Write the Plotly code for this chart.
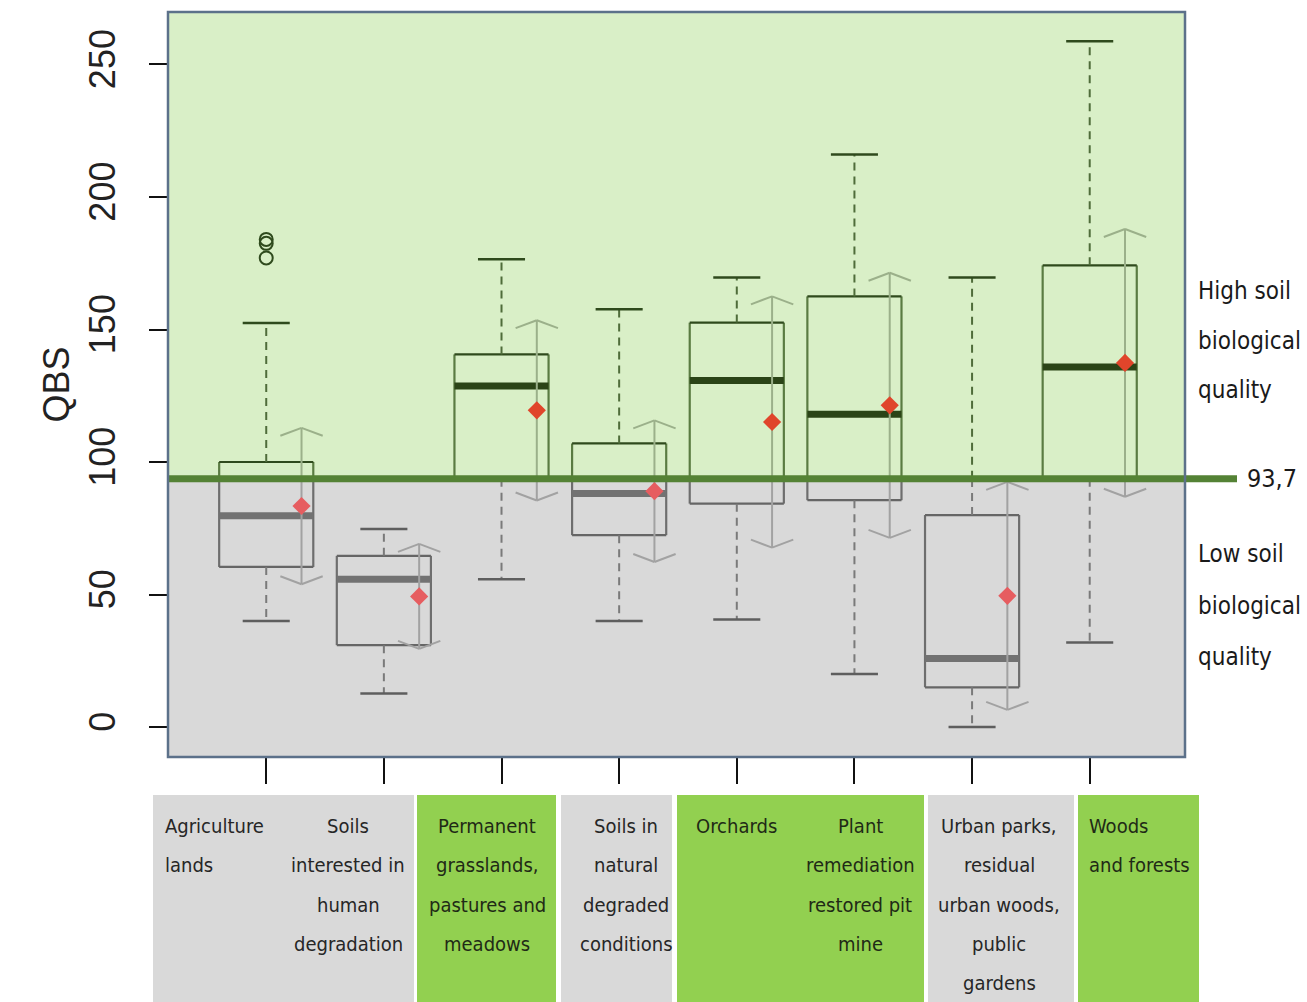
import plotly.graph_objects as go

# ---- data -------------------------------------------------------------
categories = [
    "Agriculture lands",
    "Soils interested in human degradation",
    "Permanent grasslands, pastures and meadows",
    "Soils in natural degraded conditions",
    "Orchards",
    "Plant remediation restored pit mine",
    "Urban parks, residual urban woods, public gardens",
    "Woods and forests",
]
label_lines = [
    ["Agriculture", "lands"],
    ["Soils", "interested in", "human", "degradation"],
    ["Permanent", "grasslands,", "pastures and", "meadows"],
    ["Soils in", "natural", "degraded", "conditions"],
    ["Orchards"],
    ["Plant", "remediation", "restored pit", "mine"],
    ["Urban parks,", "residual", "urban woods,", "public", "gardens"],
    ["Woods", "and forests"],
]
label_align = ["left", "center", "center", "center", "center", "center", "center", "left"]
label_green = [False, False, True, False, True, True, False, True]

whisker_low = [40.0, 12.7, 55.8, 40.0, 40.6, 20.0, 0.0, 31.9]
q1 = [60.4, 30.9, 94.0, 72.4, 84.3, 85.6, 15.0, 94.0]
median = [79.7, 55.8, 128.7, 88.1, 130.8, 118.0, 25.9, 135.9]
q3 = [100.0, 64.6, 140.6, 107.0, 152.6, 162.5, 80.0, 174.2]
whisker_high = [152.5, 74.7, 176.5, 157.6, 169.6, 216.0, 169.6, 258.8]
mean = [83.4, 49.3, 119.5, 89.0, 115.1, 121.4, 49.5, 137.4]
sd = [29.5, 19.8, 34.0, 26.7, 47.4, 50.0, 43.0, 50.5]

outlier_cat = [0, 0, 0]
outlier_val = [184.0, 182.5, 177.0]

threshold = 93.7
threshold_label = "93,7"
y_ticks = [0, 50, 100, 150, 200, 250]

# ---- styling ----------------------------------------------------------
BOX_HALF = 0.40
CAP_HALF = 0.20
SD_SHIFT = 0.30
CHEV_HALF = 0.18
CHEV_DROP = 3.0

STYLES = {
    ("box_h", "hi"): dict(color="#2f4a1d", width=2.2),
    ("box_h", "lo"): dict(color="#666666", width=2.2),
    ("box_v", "hi"): dict(color="#5a7b42", width=2.2),
    ("box_v", "lo"): dict(color="#6e6e6e", width=2.2),
    ("median", "hi"): dict(color="#2b4417", width=7),
    ("median", "lo"): dict(color="#727272", width=7),
    ("whisk", "hi"): dict(color="#4f6c3a", width=2, dash="8px,6px"),
    ("whisk", "lo"): dict(color="#7a7a7a", width=2, dash="8px,6px"),
    ("cap", "hi"): dict(color="#2f4a1d", width=2.5),
    ("cap", "lo"): dict(color="#5e5e5e", width=2.5),
    ("sd", "hi"): dict(color="#9bb08a", width=2),
    ("sd", "lo"): dict(color="#a2a2a2", width=2),
}
ORDER = ["box_v", "box_h", "median", "whisk", "cap", "sd"]

segments = {k: ([], []) for k in STYLES}


def region(y):
    return "hi" if y >= threshold else "lo"


def add_seg(kind, x0, y0, x1, y1):
    """Store a segment, splitting it where it crosses the threshold."""
    if (y0 - threshold) * (y1 - threshold) < 0:
        t = (threshold - y0) / (y1 - y0)
        xm = x0 + t * (x1 - x0)
        add_seg(kind, x0, y0, xm, threshold)
        add_seg(kind, xm, threshold, x1, y1)
        return
    r = region((y0 + y1) / 2)
    xs, ys = segments[(kind, r)]
    xs += [x0, x1, None]
    ys += [y0, y1, None]


for i in range(len(categories)):
    # box
    add_seg("box_h", i - BOX_HALF, q3[i], i + BOX_HALF, q3[i])
    add_seg("box_h", i - BOX_HALF, q1[i], i + BOX_HALF, q1[i])
    add_seg("box_v", i - BOX_HALF, q1[i], i - BOX_HALF, q3[i])
    add_seg("box_v", i + BOX_HALF, q1[i], i + BOX_HALF, q3[i])
    add_seg("median", i - BOX_HALF, median[i], i + BOX_HALF, median[i])
    # whiskers and caps
    add_seg("whisk", i, q3[i], i, whisker_high[i])
    add_seg("whisk", i, q1[i], i, whisker_low[i])
    add_seg("cap", i - CAP_HALF, whisker_high[i], i + CAP_HALF, whisker_high[i])
    add_seg("cap", i - CAP_HALF, whisker_low[i], i + CAP_HALF, whisker_low[i])
    # mean +/- sd with open arrow heads
    xs = i + SD_SHIFT
    top = mean[i] + sd[i]
    bot = mean[i] - sd[i]
    add_seg("sd", xs, bot, xs, top)
    add_seg("sd", xs - CHEV_HALF, top - CHEV_DROP, xs, top)
    add_seg("sd", xs, top, xs + CHEV_HALF, top - CHEV_DROP)
    add_seg("sd", xs - CHEV_HALF, bot + CHEV_DROP, xs, bot)
    add_seg("sd", xs, bot, xs + CHEV_HALF, bot + CHEV_DROP)

fig = go.Figure()
for kind in ORDER:
    for r in ("lo", "hi"):
        xs, ys = segments[(kind, r)]
        if xs:
            fig.add_trace(go.Scatter(x=xs, y=ys, mode="lines", line=STYLES[(kind, r)],
                                     hoverinfo="skip", showlegend=False))

# outliers
fig.add_trace(go.Scatter(
    x=outlier_cat, y=outlier_val, mode="markers", showlegend=False,
    marker=dict(symbol="circle-open", size=13, color="#2f4a1d", line=dict(width=2)),
))

# means
mean_x = [i + SD_SHIFT for i in range(len(categories))]
mean_colors = ["#e0452b" if m >= threshold else "#e65d60" for m in mean]
fig.add_trace(go.Scatter(
    x=mean_x, y=mean, mode="markers", showlegend=False,
    marker=dict(symbol="diamond", size=14, color=mean_colors),
))

# ---- layout -----------------------------------------------------------
L, R, T, B = 168, 1185, 12, 757
W, H = 1307, 1002
y_lo, y_hi = -11.3, 269.8
x_lo, x_hi = -0.835, 7.81


def px_x(p):
    return (p - L) / (R - L)


def px_y(p):
    return (B - p) / (B - T)


shapes = [
    # high-quality band above the threshold
    dict(type="rect", xref="paper", yref="y", x0=0, x1=1, y0=threshold, y1=y_hi,
         fillcolor="#d9efc7", line=dict(width=0), layer="below"),
    # threshold line, extending into the right margin
    dict(type="line", xref="paper", yref="y", x0=0, x1=px_x(1237), y0=threshold, y1=threshold,
         line=dict(color="#548235", width=7), layer="above"),
    # plot frame
    dict(type="rect", xref="paper", yref="paper", x0=0, x1=1, y0=0, y1=1,
         line=dict(color="#5c718a", width=2.5), layer="above"),
]

# coloured label panels under the axis
panels = [
    (153, 414, "#d9d9d9"),
    (417, 556, "#92d050"),
    (561, 672, "#d9d9d9"),
    (677, 924, "#92d050"),
    (928, 1074, "#d9d9d9"),
    (1078, 1199, "#92d050"),
]
for x0, x1, c in panels:
    shapes.append(dict(type="rect", xref="paper", yref="paper",
                       x0=px_x(x0), x1=px_x(x1), y0=px_y(795), y1=px_y(W),
                       fillcolor=c, line=dict(width=0), layer="below"))

LABEL_FONT = "DejaVu Sans Condensed, Liberation Sans Narrow, sans-serif"
label_anchor_px = [163, 348, 487, 626, 736, 860, 999, 1087]
line_y0, line_step = 826, 39.3

annotations = []
for i, lines in enumerate(label_lines):
    for k, txt in enumerate(lines):
        annotations.append(dict(
            xref="paper", yref="paper", x=px_x(label_anchor_px[i]),
            y=px_y(line_y0 + k * line_step),
            xanchor="left" if label_align[i] == "left" else "center", yanchor="middle",
            text=txt, showarrow=False,
            font=dict(family=LABEL_FONT, size=20, color="#1f2a16" if label_green[i] else "#262626"),
        ))

side_texts = [
    ("High soil", 1196, 291), ("biological", 1196, 341), ("quality", 1196, 390),
    ("Low soil", 1196, 554), ("biological", 1196, 606), ("quality", 1196, 657),
]
for txt, xp, yp in side_texts:
    annotations.append(dict(xref="paper", yref="paper", x=px_x(xp), y=px_y(yp),
                            xanchor="left", yanchor="middle", text=txt, showarrow=False,
                            font=dict(family=LABEL_FONT, size=24, color="#1a1a1a")))
annotations.append(dict(xref="paper", yref="y", x=px_x(1245), y=threshold,
                        xanchor="left", yanchor="middle", text=threshold_label, showarrow=False,
                        font=dict(family=LABEL_FONT, size=25, color="#1a1a1a")))

fig.update_layout(
    width=W, height=H,
    margin=dict(l=L, r=W - R, t=T, b=H - B, autoexpand=False),
    paper_bgcolor="white",
    plot_bgcolor="#d9d9d9",
    shapes=shapes,
    annotations=annotations,
    showlegend=False,
)
fig.update_xaxes(
    range=[x_lo, x_hi], tickmode="array", tickvals=list(range(len(categories))),
    ticktext=[""] * len(categories), showticklabels=False,
    ticks="outside", ticklen=26, tickwidth=2, tickcolor="#111111",
    showgrid=False, zeroline=False, showline=False,
)
fig.update_yaxes(
    range=[y_lo, y_hi], tickmode="array", tickvals=y_ticks,
    ticks="outside", ticklen=18, tickwidth=2, tickcolor="#111111",
    tickangle=-90, ticklabelstandoff=20,
    tickfont=dict(family="Liberation Sans, Arial, sans-serif", size=36, color="#222222"),
    title=dict(text="QBS", standoff=0,
               font=dict(family="Liberation Sans, Arial, sans-serif", size=36, color="#222222")),
    showgrid=False, zeroline=False, showline=False,
)

fig.write_html("out.html")
